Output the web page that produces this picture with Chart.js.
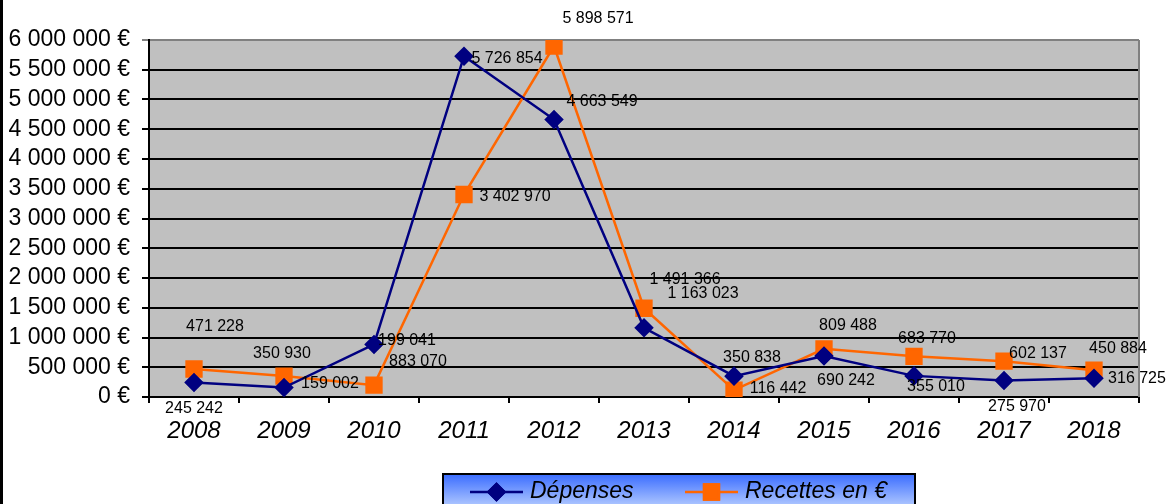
<!DOCTYPE html>
<html>
<head>
<meta charset="utf-8">
<script src="https://cdn.jsdelivr.net/npm/chart.js@4"></script>
<style>
  html, body { margin: 0; padding: 0; background: #fff; }
  #wrap { width: 1168px; height: 504px; position: relative; }
</style>
</head>
<body>
<div id="wrap"><canvas id="chart" width="1168" height="504"></canvas></div>
<script>
// données
const years = ['2008', '2009', '2010', '2011', '2012', '2013', '2014', '2015', '2016', '2017', '2018'];
const depenses = [245242, 159002, 883070, 5726854, 4663549, 1163023, 350838, 690242, 355010, 275970, 316725];
const recettes = [471228, 350930, 199041, 3402970, 5898571, 1491366, 116442, 809488, 683770, 602137, 450884];
const yMax = 6000000;
const yStep = 500000;

// décalage des étiquettes par rapport au point (px)
const depensesLabelOffsets = [[0, 26], [46, -4], [44, 17], [43, 2], [48, -18], [59, -34], [18, -19], [22, 25], [22, 11], [13, 26], [43, 0]];
const recettesLabelOffsets = [[21, -42], [-2, -23], [33, -45], [51, 2], [44, -27], [41, -29], [44, -1], [24, -23], [13, -18], [34, -8], [24, -22]];

const FONT = "'Liberation Sans', Arial, sans-serif";
const fmt = v => String(v).replace(/\B(?=(\d{3})+(?!\d))/g, ' ');

// fond gris de la zone de tracé + bord droit
const plotArea = {
  id: 'plotArea',
  beforeDraw(chart) {
    const { ctx, chartArea: a } = chart;
    ctx.save();
    ctx.fillStyle = '#C0C0C0';
    ctx.fillRect(a.left, a.top, a.right - a.left, a.bottom - a.top);
    ctx.restore();
  },
  beforeDatasetsDraw(chart) {
    const { ctx, chartArea: a } = chart;
    ctx.save();
    ctx.strokeStyle = '#808080';
    ctx.lineWidth = 2;
    ctx.beginPath();
    ctx.moveTo(a.right, a.top);
    ctx.lineTo(a.right, a.bottom);
    ctx.stroke();
    ctx.restore();
  }
};

// étiquettes de valeurs
const valueLabels = {
  id: 'valueLabels',
  afterDatasetsDraw(chart) {
    const ctx = chart.ctx;
    const offsets = [depensesLabelOffsets, recettesLabelOffsets];
    ctx.save();
    ctx.font = '16px ' + FONT;
    ctx.fillStyle = '#000';
    ctx.textAlign = 'center';
    ctx.textBaseline = 'middle';
    chart.data.datasets.forEach((ds, di) => {
      chart.getDatasetMeta(di).data.forEach((pt, i) => {
        const off = offsets[di][i];
        ctx.fillText(fmt(ds.data[i]), pt.x + off[0], pt.y + off[1]);
      });
    });
    ctx.restore();
  }
};

// légende en bas + cadre gauche
const customLegend = {
  id: 'customLegend',
  afterDraw(chart) {
    const ctx = chart.ctx;
    ctx.save();
    ctx.fillStyle = '#000';
    ctx.fillRect(0, 0, 3, 504);

    const bx = 443, by = 474, bw = 472, bh = 40;
    const g = ctx.createLinearGradient(0, by, 0, by + 30);
    g.addColorStop(0, '#3a6cff');
    g.addColorStop(1, '#a8c2ff');
    ctx.fillStyle = g;
    ctx.fillRect(bx, by, bw, bh);
    ctx.strokeStyle = '#000';
    ctx.lineWidth = 2;
    ctx.strokeRect(bx, by, bw, bh);

    const items = [
      { x: 470, textX: 530 },
      { x: 685, textX: 745 }
    ];
    const ly = 492;
    chart.data.datasets.forEach((ds, i) => {
      const it = items[i];
      ctx.strokeStyle = ds.borderColor;
      ctx.lineWidth = 2.5;
      ctx.beginPath();
      ctx.moveTo(it.x, ly);
      ctx.lineTo(it.x + 53, ly);
      ctx.stroke();
      Chart.helpers.drawPoint(ctx, {
        pointStyle: ds.pointStyle,
        radius: ds.pointRadius,
        borderWidth: 1
      }, it.x + 26.5, ly);
      ctx.fillStyle = ds.pointBackgroundColor;
      ctx.strokeStyle = ds.pointBorderColor;
      ctx.fill();
      ctx.stroke();
      ctx.fillStyle = '#000';
      ctx.font = 'italic 23px ' + FONT;
      ctx.textAlign = 'left';
      ctx.textBaseline = 'middle';
      ctx.fillText(ds.label, it.textX, ly);
    });
    ctx.restore();
  }
};

new Chart(document.getElementById('chart').getContext('2d'), {
  type: 'line',
  data: {
    labels: years,
    datasets: [
      {
        label: 'Dépenses',
        data: depenses,
        borderColor: '#000080',
        borderWidth: 2.5,
        pointStyle: 'rectRot',
        pointRadius: 8,
        pointBackgroundColor: '#000080',
        pointBorderColor: '#000080',
        tension: 0,
        fill: false
      },
      {
        label: 'Recettes en €',
        data: recettes,
        borderColor: '#FF6600',
        borderWidth: 2.5,
        pointStyle: 'rect',
        pointRadius: 10.5,
        pointBackgroundColor: '#FF6600',
        pointBorderColor: '#FF6600',
        tension: 0,
        fill: false
      }
    ]
  },
  options: {
    responsive: false,
    animation: false,
    layout: { padding: { left: 0, top: 40, right: 29, bottom: 0 } },
    plugins: {
      legend: { display: false },
      tooltip: { enabled: false }
    },
    scales: {
      x: {
        offset: true,
        afterFit(scale) { scale.height = 107; },
        grid: { offset: true, drawOnChartArea: false, drawTicks: true, tickLength: 6, color: '#000', lineWidth: 2 },
        border: { color: '#000', width: 2 },
        ticks: {
          color: '#000',
          padding: 14,
          font: { family: FONT, size: 24, style: 'italic' },
          maxRotation: 0
        }
      },
      y: {
        min: 0,
        max: yMax,
        afterFit(scale) { scale.width = 149; },
        grid: {
          color: c => (c.tick && c.tick.value === yMax ? '#808080' : '#000'),
          lineWidth: 2,
          tickLength: 7
        },
        border: { color: '#000', width: 2 },
        ticks: {
          stepSize: yStep,
          autoSkip: false,
          color: '#000',
          padding: 12,
          font: { family: FONT, size: 23 },
          callback: v => (v === 0 ? '0 €' : fmt(v) + ' €')
        }
      }
    }
  },
  plugins: [plotArea, valueLabels, customLegend]
});
</script>
</body>
</html>
